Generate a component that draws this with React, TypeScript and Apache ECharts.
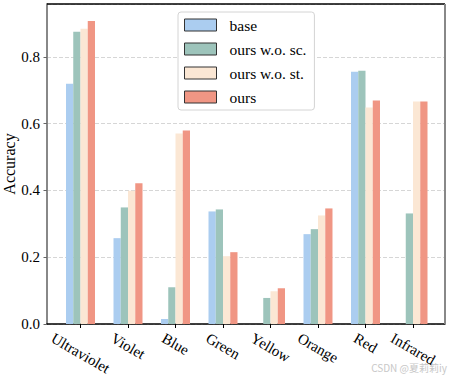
import React, { useEffect, useRef } from "react";
import * as echarts from "echarts";

const categories = ["Ultraviolet", "Violet", "Blue", "Green", "Yellow", "Orange", "Red", "Infrared"];
const seriesNames = ["base", "ours w.o. sc.", "ours w.o. st.", "ours"];
const base = [0.719, 0.257, 0.015, 0.337, 0, 0.269, 0.755, 0];
const oursWoSc = [0.875, 0.349, 0.11, 0.343, 0.078, 0.284, 0.758, 0.331];
const oursWoSt = [0.884, 0.399, 0.57, 0.203, 0.098, 0.325, 0.648, 0.666];
const ours = [0.907, 0.421, 0.579, 0.215, 0.107, 0.346, 0.669, 0.666];
const yTicks = [0, 0.2, 0.4, 0.6, 0.8];
const colors = ["#ABCDF0", "#9DC4BB", "#FBE7D4", "#F09684"];

const FONT = "Liberation Serif";

function measure(text: string, size: number): number {
  const c = document.createElement("canvas").getContext("2d");
  if (!c) return text.length * size * 0.45;
  c.font = `${size}px 'Liberation Serif'`;
  return c.measureText(text).width;
}

export default function App() {
  const ref = useRef<HTMLDivElement>(null);
  useEffect(() => {
    if (!ref.current) return;
    const chart = echarts.init(ref.current, undefined, { renderer: "svg" });
    const allData = [base, oursWoSc, oursWoSt, ours];

    const rich: Record<string, any> = {};
    categories.forEach((c, i) => {
      const w = measure(c, 15);
      const d = 0.25 * w;
      rich["c" + i] = {
        fontFamily: FONT,
        fontSize: 15,
        color: "#000",
        padding: [1.732 * d, 0, 0, d],
      };
    });

    const gridLeft = 47;
    const gridTop = 4;
    const gridW = 398;
    const gridH = 320;
    const yMax = 0.958;

    chart.setOption({
      animation: false,
      backgroundColor: "#fff",
      grid: [
        { left: gridLeft, top: gridTop, width: gridW, height: gridH, outerBoundsMode: "none" },
        { left: 56.75, top: gridTop, width: 380, height: gridH, outerBoundsMode: "none" },
      ],
      legend: {
        orient: "vertical",
        left: 178,
        top: 12,
        data: seriesNames,
        icon: "rect",
        itemWidth: 32,
        itemHeight: 12,
        itemGap: 8,
        padding: [5, 8, 5, 6],
        backgroundColor: "#fff",
        borderColor: "#d4d4d4",
        borderWidth: 1,
        borderRadius: 3,
        itemStyle: { borderColor: "#333", borderWidth: 1 },
        textStyle: { fontFamily: FONT, fontSize: 15.5, color: "#000", padding: [0, 0, 0, 8] },
      },
      xAxis: [
        {
          type: "value",
          gridIndex: 0,
          min: 0,
          max: 1,
          splitLine: { show: false },
          axisLine: { show: true, onZero: false, lineStyle: { color: "#000", width: 1.5 } },
          axisTick: { show: false },
          axisLabel: { show: false },
        },
        {
          type: "category",
          gridIndex: 1,
          data: categories,
          splitLine: { show: false },
          axisLine: { show: false },
          axisTick: {
            show: true,
            alignWithLabel: true,
            length: 4,
            lineStyle: { color: "#000", width: 1 },
          },
          axisLabel: {
            interval: 0,
            rotate: -30,
            align: "center",
            verticalAlign: "middle",
            margin: 13,
            formatter: (v: string) => {
              const i = categories.indexOf(v);
              return `{c${i}|${v}}`;
            },
            rich,
          },
        },
      ],
      yAxis: [
        {
          type: "value",
          gridIndex: 0,
          min: 0,
          max: yMax,
          interval: 0.2,
          name: "Accuracy",
          nameLocation: "middle",
          nameGap: 30,
          nameMoveOverlap: false,
          nameTextStyle: { fontFamily: FONT, fontSize: 16, color: "#000" },
          axisLine: { show: true, lineStyle: { color: "#888", width: 2 } },
          axisTick: { show: true, length: 3.5, lineStyle: { color: "#666" } },
          axisLabel: {
            showMaxLabel: false,
            margin: 7,
            fontFamily: FONT,
            fontSize: 15,
            color: "#000",
            formatter: (v: number) => (yTicks.some((t) => Math.abs(t - v) < 1e-6) ? v.toFixed(1) : ""),
          },
          splitLine: {
            show: true,
            lineStyle: { color: "#cccccc", type: [4, 2], width: 0.8 },
          },
        },
        {
          type: "value",
          gridIndex: 1,
          min: 0,
          max: yMax,
          show: false,
          splitLine: { show: false },
        },
      ],
      graphic: [
        {
          type: "line",
          z: 100,
          shape: { x1: gridLeft, y1: gridTop, x2: gridLeft + gridW, y2: gridTop },
          style: { stroke: "#000", lineWidth: 1.5 },
        },
        {
          type: "line",
          z: 100,
          shape: { x1: gridLeft + gridW, y1: gridTop, x2: gridLeft + gridW, y2: gridTop + gridH },
          style: { stroke: "#888", lineWidth: 2 },
        },
        {
          type: "text",
          right: 3,
          bottom: 6,
          style: {
            text: "CSDN @夏莉莉iy",
            fill: "#c8c8c8",
            fontSize: 10,
            fontFamily: "Noto Sans CJK SC",
          },
        },
      ],
      series: seriesNames.map((name, s) => ({
        name,
        type: "bar",
        xAxisIndex: 1,
        yAxisIndex: 1,
        barWidth: 7.25,
        barGap: "0%",
        clip: false,
        itemStyle: { color: colors[s] },
        data: allData[s],
      })),
    });
    return () => chart.dispose();
  }, []);
  return <div ref={ref} style={{ position: "absolute", left: 0, top: 0, width: 450, height: 378 }} />;
}
